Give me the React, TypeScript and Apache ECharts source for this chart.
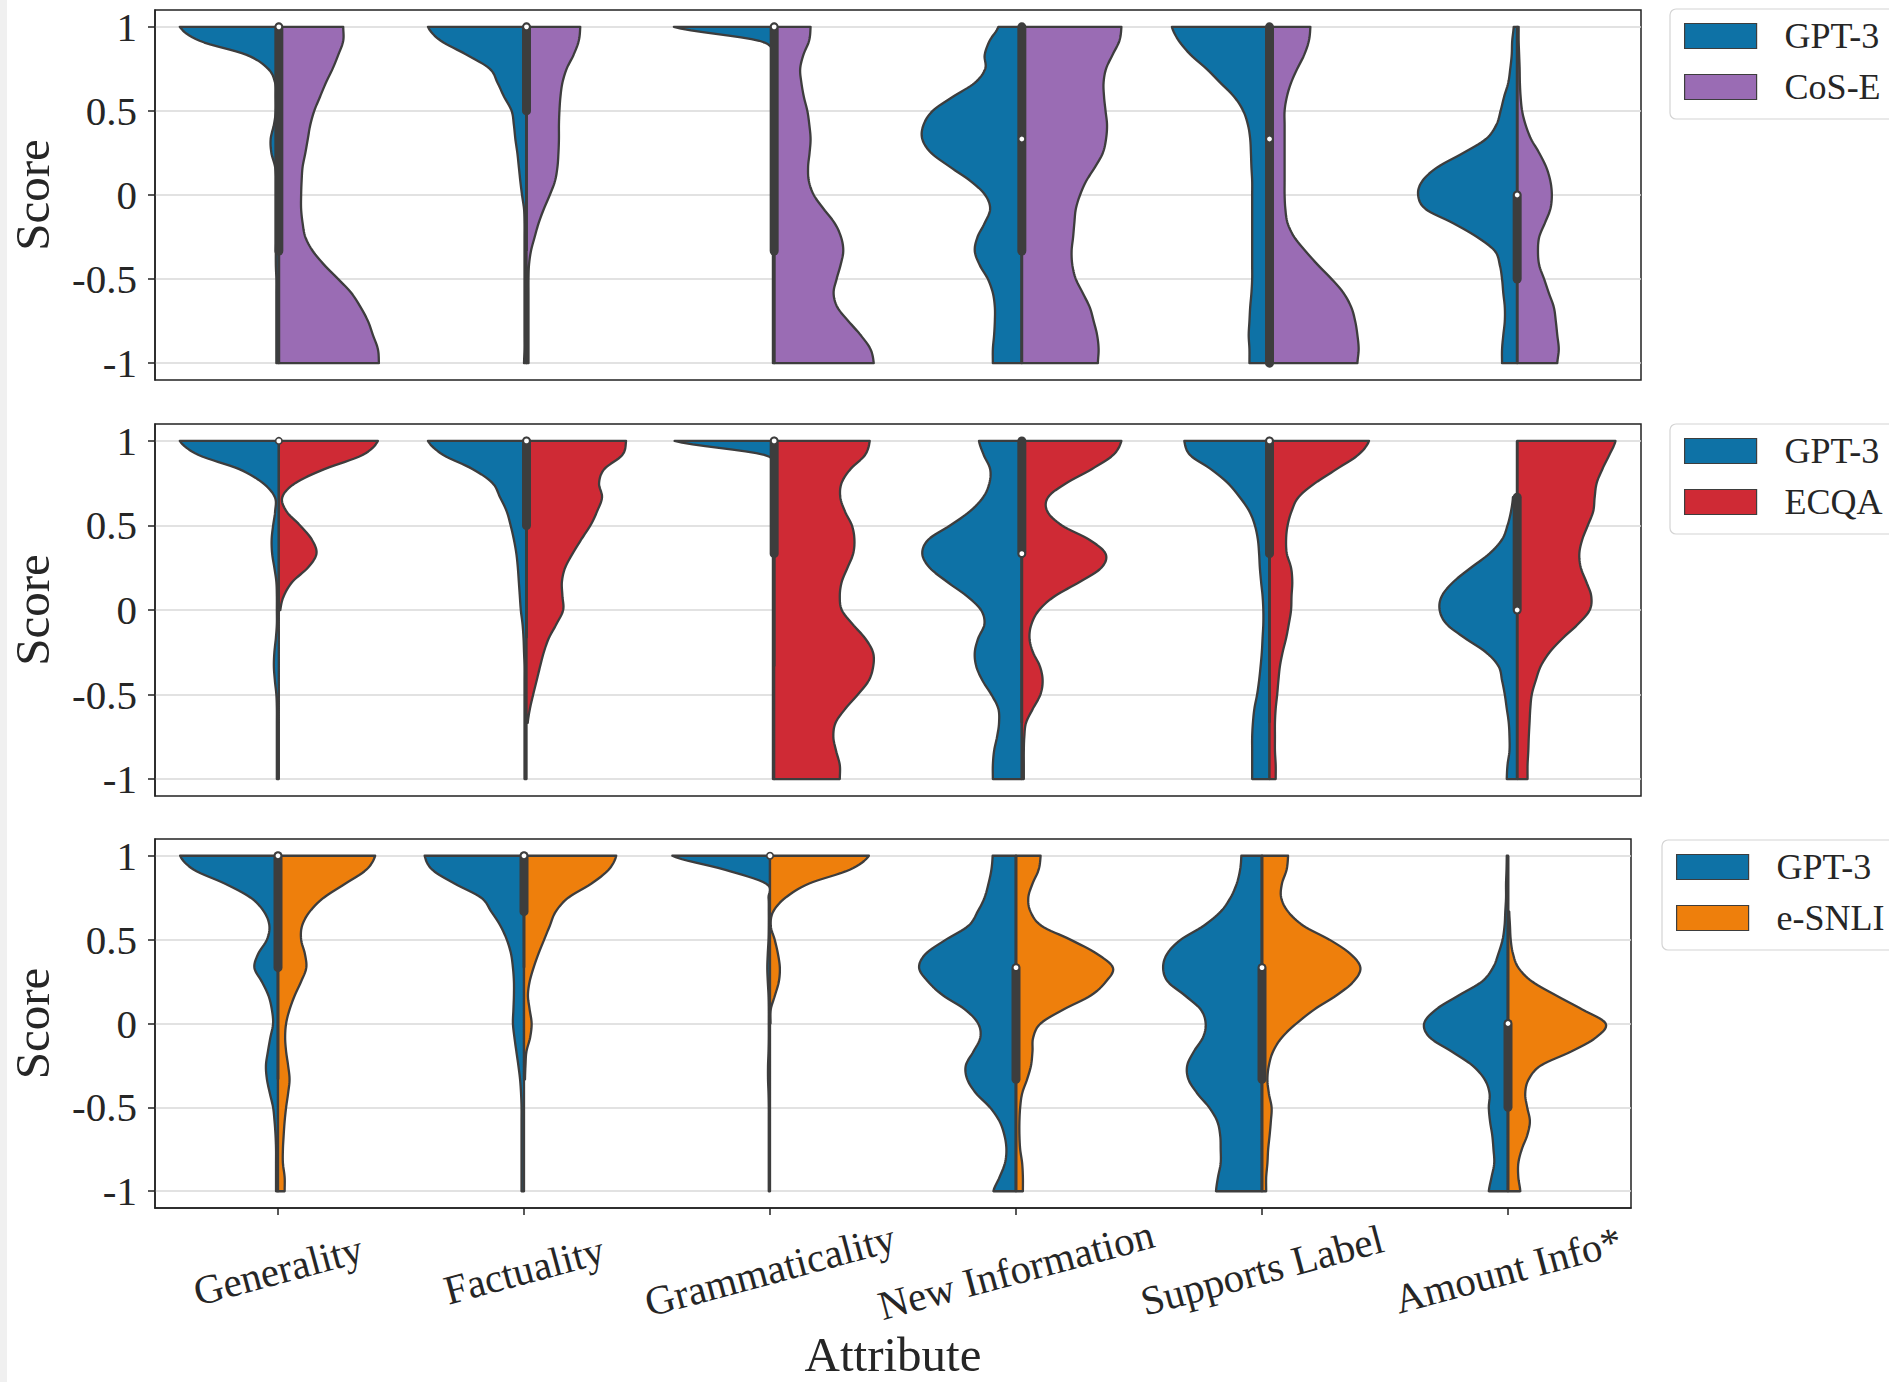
import React, { useEffect, useRef } from 'react';
import * as echarts from 'echarts';

const _ = null;

const CATEGORIES = ['Generality', 'Factuality', 'Grammaticality', 'New Information', 'Supports Label', 'Amount Info*'];
const Y_TICKS = [-1, -0.5, 0, 0.5, 1];
// score levels at which the half-violin widths (percent of category band) were read
const LEVELS = [1, 0.917, 0.833, 0.75, 0.667, 0.583, 0.5, 0.417, 0.333, 0.25, 0.167, 0.083, 0,
  -0.083, -0.167, -0.25, -0.333, -0.417, -0.5, -0.583, -0.667, -0.75, -0.833, -0.917, -1];

// Panel 1: GPT-3 vs CoS-E
const P1_GPT3 = [
  [40, 32, 13, 4.3, 1.5, 1.2, 1.2, 2, 3.3, 3, 1.5, 1, 1, 1, 1, 1, 1.2, 1.2, 1, 1, 1, 1, 1, 1, 1],
  [39.8, 34.6, 24, 14.8, 11.7, 9, 6, 5.1, 4.5, 3.7, 3.1, 2.5, 1.8, 1, 0.8, 0.8, 0.8, 0.8, 0.8, 0.8, 0.8, 0.8, 0.8, 0.8, 1],
  [40.5, 6, 0.5, 0.5, 0.5, 0.5, 0.5, 0.5, 0.5, 0.5, 0.5, 0.5, 0.5, 0.5, 0.5, 0.5, 0.5, 0.5, 0.5, 0.5, 0.5, 0.5, 0.5, 0.5, 0.5],
  [9.5, 13, 15, 14.8, 19, 28, 36, 39.7, 40.2, 36.6, 29, 20.7, 14.8, 12.8, 15, 17.9, 19, 17, 13.7, 11.7, 10.9, 10.9, 11.2, 11.7, 11.7],
  [39.4, 36.6, 31.8, 25.4, 19.8, 14.2, 10.6, 8.7, 7.8, 7.5, 7.3, 7, 7, 7, 7, 7, 7, 7, 7, 7.3, 7.8, 8.1, 8.4, 8.1, 8.1],
  [1.4, 2, 2.2, 2.8, 3.6, 5.3, 6.7, 8.4, 12.6, 21.8, 32, 38.3, 40, 37, 26, 16.2, 9, 7, 6.1, 5.6, 5, 5, 5.6, 6.1, 6.1],
];
const P1_COSE = [
  [26, 26, 24, 21.7, 19, 16.6, 14.3, 12.7, 11.7, 10.7, 9.6, 9.2, 9, 9, 9.6, 10.7, 13.7, 18.4, 24, 29.3, 33, 36, 38, 40, 40.4],
  [21.7, 21.1, 19, 16.2, 14.5, 13.7, 13.3, 13.1, 13.1, 12.9, 12.5, 11.5, 9.4, 7, 4.9, 3.3, 1.8, 1, 0.8, 0.8, 0.8, 0.8, 0.8, 0.8, 0.8],
  [14.7, 14.1, 11.8, 10.5, 11, 12, 13.4, 14.2, 14.7, 14.3, 13.7, 14, 16, 20, 24.4, 27, 27.9, 26.8, 25.2, 24, 25.5, 30, 34.9, 38.9, 40.2],
  [40.2, 39.4, 36.6, 34, 33, 33.2, 33.8, 34.4, 34, 32.7, 29.6, 26, 23.5, 21.8, 21.2, 20.7, 20.1, 20.4, 21.8, 24.6, 27.4, 29, 30.4, 31, 30.7],
  [16.5, 15.9, 14, 11.2, 8.7, 7, 6.1, 6.1, 6.1, 6.1, 6.1, 6.1, 6.1, 6.4, 7.3, 10, 14.5, 19.6, 25.1, 29.9, 33, 34.6, 35.5, 36, 35.5],
  [0.6, 0.6, 0.8, 1, 1.1, 1.4, 2, 3.4, 5.6, 8.9, 11.7, 13.4, 14, 13.4, 11.2, 8.9, 8.4, 8.9, 10.9, 12.8, 14.8, 15.6, 16.2, 16.8, 16.2],
];

// Panel 2: GPT-3 vs ECQA
const P2_GPT3 = [
  [40, 32.4, 16, 6.4, 1.6, 1.5, 2.3, 2.9, 2.7, 1.8, 1, 0.8, 0.8, 0.8, 1.2, 1.8, 2, 1.6, 1, 0.8, 0.8, 0.8, 0.8, 0.8, 0.8],
  [39.8, 33.6, 21.7, 13.7, 10.7, 8, 6.4, 5.1, 4.1, 3.5, 3.1, 2.7, 2.3, 1.6, 1.2, 1, 0.8, 0.8, 0.8, 0.8, 0.8, 0.8, 0.8, 0.8, 0.8],
  [40.2, 4, 0.5, 0.5, 0.5, 0.5, 0.5, 0.5, 0.5, 0.5, 0.5, 0.5, 0.5, 0.5, 0.5, 0.5, 0.5, 0.5, 0.5, 0.5, 0.5, 0.5, 0.5, 0.5, 0.5],
  [17.3, 15.4, 12.8, 13.1, 15.6, 21, 29, 37.7, 40.2, 37.2, 30.2, 22.3, 16.5, 15.1, 17.6, 19, 18.4, 15.9, 12.3, 9.5, 9.2, 10, 11.2, 11.7, 11.7],
  [34.4, 32.1, 23.7, 16.8, 12, 8.1, 5.9, 4.7, 4.2, 3.9, 3.4, 2.8, 2.5, 2.5, 2.8, 3.1, 3.6, 4.2, 5, 6.1, 6.7, 7, 7, 7, 7],
  [_, _, _, _, 1.7, 2.5, 3.9, 6.1, 11.2, 18.7, 25.7, 30.4, 31.3, 28.5, 21, 12.6, 7.5, 6.1, 5, 4.2, 3.4, 3.1, 3.1, 3.9, 4.2],
];
const P2_ECQA = [
  [40, 33.8, 18.4, 6.6, 1.4, 3.1, 8.6, 13.3, 15.2, 11.7, 5.5, 2, 0.6, _, _, _, _, _, _, _, _, _, _, _, _],
  [40.2, 38.7, 31.4, 29.3, 30.5, 28.5, 25.8, 22.1, 18.6, 15.6, 14.3, 14.5, 14.8, 12.1, 9, 7, 5.5, 4.1, 2.7, 1.4, 0.5, _, _, _, _],
  [38.6, 36.7, 30.8, 27.2, 26.7, 28.6, 31.4, 32.4, 31.9, 29.6, 27.3, 26.5, 27.3, 31.6, 36.7, 39.9, 40, 38.2, 33.8, 28.8, 24.8, 23.9, 25, 26.5, 26.5],
  [40.2, 36.9, 28.2, 17.9, 10.6, 10.3, 16.2, 27.1, 33.8, 32.1, 23.5, 13.4, 7, 3.9, 3.1, 4.5, 7.3, 8.4, 7.5, 4.5, 1.7, 1, 0.8, 0.8, 0.8],
  [40.2, 35.8, 27.1, 18.4, 11.7, 8.9, 7.3, 6.7, 7, 8.7, 9.2, 8.9, 8.7, 7.8, 6.7, 5.3, 4.2, 3.6, 3.1, 2.5, 2.2, 2.2, 2.2, 2.5, 2.5],
  [39.7, 37.2, 34.4, 32.1, 31.3, 30.7, 28.5, 26.3, 25.1, 25.7, 27.9, 29.9, 29.3, 24.6, 18.4, 13.1, 9.5, 7.5, 5.9, 5.3, 5, 4.7, 4.5, 4.2, 4.2],
];

// Panel 3: GPT-3 vs e-SNLI
const P3_GPT3 = [
  [39.8, 34.2, 21.5, 11.1, 5.7, 3.5, 4.5, 8, 9.6, 6.6, 3.9, 2.5, 2, 3.1, 4.1, 4.9, 4.5, 3.3, 2, 1.4, 1, 0.8, 0.8, 0.8, 0.8],
  [40.4, 37.3, 28.1, 17.4, 13.3, 9.6, 7, 5.3, 4.5, 4.1, 4.1, 4.3, 4.5, 3.9, 3.1, 2.3, 1.6, 1.2, 1, 1, 1, 1, 1, 1, 1],
  [39.7, 18.5, 1.5, 0.6, 0.5, 0.5, 0.6, 0.9, 1.1, 0.9, 0.6, 0.5, 0.5, 0.5, 0.6, 0.8, 0.8, 0.6, 0.5, 0.5, 0.5, 0.5, 0.5, 0.5, 0.5],
  [9.5, 10, 11.2, 12.8, 15.6, 19.3, 28.5, 36.6, 39.4, 35.8, 29.6, 20.7, 15.4, 14.5, 17.3, 20.4, 19.8, 16.2, 10.6, 6.7, 4.7, 3.9, 4.5, 6.7, 9.2],
  [8.4, 8.9, 10.3, 12.8, 16.8, 23.7, 33, 38.5, 40.2, 38.3, 31.3, 24.9, 22.9, 24, 27.7, 30.4, 29.9, 26.3, 21.5, 18.2, 17, 16.8, 16.8, 17.9, 18.7],
  [0.5, 0.6, 0.8, 0.8, 1.1, 1.4, 2.2, 3.9, 6.1, 10.6, 20.1, 29.3, 34.1, 31.8, 22.9, 14.5, 9.5, 7.5, 7.8, 7.3, 6.4, 5.9, 5.6, 6.7, 7.8],
];
const P3_ESNLI = [
  [39.5, 35.9, 27.3, 18.6, 12.9, 9.8, 9.4, 10.9, 11.5, 9.4, 6.8, 4.7, 3.3, 2.9, 3.3, 4.1, 4.7, 4.1, 3.3, 2.7, 2.3, 2, 2, 2.7, 2.7],
  [37.5, 34.4, 27.3, 18, 12.9, 10.5, 8.2, 5.9, 3.9, 2.3, 1.6, 2.3, 3.1, 2.5, 1, 0.6, 0.4, _, _, _, _, _, _, _, _],
  [40.2, 32.4, 15.7, 6.3, 1.3, 0.3, 1.9, 3.2, 4, 3.6, 2, 0.3, 0.2, _, _, _, _, _, _, _, _, _, _, _, _],
  [10, 9.2, 6.7, 5, 5.9, 10.3, 22.1, 32.7, 39.4, 36.6, 30.4, 19.3, 10, 7, 6.7, 6.1, 4.5, 2.5, 1.7, 1.4, 1.4, 1.7, 2.5, 2.8, 2.8],
  [10.6, 10, 8.1, 7.8, 10.6, 16.8, 27.4, 35.8, 40, 37.2, 30.2, 21.2, 14, 8.1, 4.5, 2.8, 2.2, 2.8, 3.9, 3.6, 3.1, 2.5, 2.2, 1.7, 1.7],
  [_, _, _, _, 0.5, 0.8, 1.1, 2, 4.2, 9.8, 19.6, 30.2, 39.7, 35.8, 25.7, 13.4, 8.4, 7, 7.8, 8.9, 7.8, 5.6, 4.2, 4.2, 5],
];

// inner box statistics per panel (rows) and category (columns)
const WHISKER_LO = [
  [-1, -0.333, -1, -1, -1, -1],
  [1, -0.167, -0.333, -0.667, -0.667, -1],
  [-0.333, 0.333, 1, -1, -1, -1],
];
const Q1 = [
  [-0.333, 0.5, -0.333, -0.333, -1, -0.5],
  [1, 0.5, 0.333, 0.333, 0.333, 0],
  [0.333, 0.667, 1, -0.333, -0.333, -0.5],
];
const MEDIAN = [
  [1, 1, 1, 0.333, 0.333, 0],
  [1, 1, 1, 0.333, 1, 0],
  [1, 1, 1, 0.333, 0.333, 0],
];
const Q3 = [
  [1, 1, 1, 1, 1, 0],
  [1, 1, 1, 1, 1, 0.667],
  [1, 1, 1, 0.333, 0.333, 0],
];
const WHISKER_HI = [
  [1, 1, 1, 1, 1, 1],
  [1, 1, 1, 1, 1, 1],
  [1, 1, 1, 1, 1, 1],
];

const SERIES_NAMES = [['GPT-3', 'CoS-E'], ['GPT-3', 'ECQA'], ['GPT-3', 'e-SNLI']];
const TABLES = [[P1_GPT3, P1_COSE], [P2_GPT3, P2_ECQA], [P3_GPT3, P3_ESNLI]];

const BLUE = '#0e72a6';
const COLORS = ['#9a6cb4', '#cf2a35', '#ee7f0c'];
const DARK = '#3d3d3d';
const TEXT = '#262626';
const FONT = '"Liberation Serif", "DejaVu Serif", serif';

function catmull(p0: number, p1: number, p2: number, p3: number, t: number) {
  const t2 = t * t;
  const t3 = t2 * t;
  return 0.5 * (2 * p1 + (-p0 + p2) * t + (2 * p0 - 5 * p1 + 4 * p2 - p3) * t2 + (-p0 + 3 * p1 - 3 * p2 + p3) * t3);
}

function halfViolin(table: (number | null)[][], side: number, color: string) {
  return (params: any, api: any) => {
    const c = api.value(0);
    const row = table[c];
    const idx: number[] = [];
    row.forEach((w, k) => { if (w !== null) idx.push(k); });
    if (!idx.length) return null;
    const bw = api.size([1, 0])[0];
    const ws = idx.map((k) => row[k] as number);
    const vs = idx.map((k) => LEVELS[k]);
    const n = ws.length;
    const pts: number[][] = [];
    pts.push(api.coord([c, vs[0]]));
    const STEPS = 8;
    for (let i = 0; i < n - 1; i++) {
      const a = Math.max(i - 1, 0);
      const d = Math.min(i + 2, n - 1);
      for (let s = 0; s < STEPS; s++) {
        const t = s / STEPS;
        const w = Math.max(0, catmull(ws[a], ws[i], ws[i + 1], ws[d], t));
        const v = vs[i] + (vs[i + 1] - vs[i]) * t;
        const p = api.coord([c, v]);
        pts.push([p[0] + side * (w / 100) * bw, p[1]]);
      }
    }
    const pe = api.coord([c, vs[n - 1]]);
    pts.push([pe[0] + side * (ws[n - 1] / 100) * bw, pe[1]]);
    pts.push(pe);
    return {
      type: 'polygon',
      shape: { points: pts },
      style: { fill: color, stroke: DARK, lineWidth: 2.3, lineJoin: 'round' },
    };
  };
}

function innerBox(p: number) {
  return (params: any, api: any) => {
    const c = api.value(0);
    const children: any[] = [];
    const lo = api.coord([c, WHISKER_LO[p][c]]);
    const hi = api.coord([c, WHISKER_HI[p][c]]);
    if (WHISKER_LO[p][c] !== WHISKER_HI[p][c]) {
      children.push({ type: 'line', shape: { x1: lo[0], y1: lo[1], x2: hi[0], y2: hi[1] }, style: { stroke: DARK, lineWidth: 2.8 } });
    }
    if (Q1[p][c] !== Q3[p][c]) {
      const a = api.coord([c, Q1[p][c]]);
      const b = api.coord([c, Q3[p][c]]);
      children.push({ type: 'line', shape: { x1: a[0], y1: a[1], x2: b[0], y2: b[1] }, style: { stroke: DARK, lineWidth: 9, lineCap: 'round' } });
    }
    const m = api.coord([c, MEDIAN[p][c]]);
    children.push({ type: 'circle', shape: { cx: m[0], cy: m[1], r: 3.2 }, style: { fill: '#ffffff', stroke: DARK, lineWidth: 1.6 } });
    return { type: 'group', children };
  };
}

const GRIDS = [
  { top: 10, height: 370, right: 248 },
  { top: 424, height: 372, right: 248 },
  { top: 839, height: 369, right: 258 },
];
const LEGEND_POS = [
  { left: 1670, top: 9 },
  { left: 1670, top: 424 },
  { left: 1662, top: 840 },
];

export default function App() {
  const ref = useRef<HTMLDivElement>(null);
  useEffect(() => {
    if (!ref.current) return;
    const chart = echarts.init(ref.current, undefined, { renderer: 'svg' });
    const catData = CATEGORIES.map((_c, i) => [i]);
    const series: any[] = [];
    [0, 1, 2].forEach((p) => {
      series.push({
        type: 'custom', name: SERIES_NAMES[p][0], xAxisIndex: p, yAxisIndex: p,
        data: catData, encode: { x: 0 }, renderItem: halfViolin(TABLES[p][0], -1, BLUE),
        itemStyle: { color: BLUE }, z: 2, clip: false,
      });
      series.push({
        type: 'custom', name: SERIES_NAMES[p][1], xAxisIndex: p, yAxisIndex: p,
        data: catData, encode: { x: 0 }, renderItem: halfViolin(TABLES[p][1], 1, COLORS[p]),
        itemStyle: { color: COLORS[p] }, z: 2, clip: false,
      });
      series.push({
        type: 'custom', name: 'box' + p, xAxisIndex: p, yAxisIndex: p,
        data: catData, encode: { x: 0 }, renderItem: innerBox(p), z: 4, clip: false,
      });
    });
    const option: any = {
      animation: false,
      grid: GRIDS.map((g) => ({
        left: 148, right: g.right, top: g.top, height: g.height, show: true,
        borderColor: '#222', borderWidth: 1.5, backgroundColor: '#ffffff',
      })),
      xAxis: [0, 1, 2].map((p) => ({
        type: 'category', gridIndex: p, data: CATEGORIES, boundaryGap: true,
        axisLine: { show: p === 2, onZero: false, lineStyle: { color: '#222', width: 1.5 } },
        axisTick: { show: p === 2, alignWithLabel: true, length: 7, lineStyle: { color: '#222', width: 1.5 } },
        axisLabel: p === 2
          ? { show: true, interval: 0, rotate: 15, align: 'center', verticalAlign: 'middle', margin: 62, fontSize: 41, fontFamily: FONT, color: TEXT }
          : { show: false },
        splitLine: { show: false },
        name: p === 2 ? 'Attribute' : '',
        nameLocation: 'middle', nameGap: 122,
        nameTextStyle: { fontSize: 49, fontFamily: FONT, color: TEXT },
      })),
      yAxis: [0, 1, 2].map((p) => ({
        type: 'value', gridIndex: p, min: -1.1, max: 1.1,
        axisLine: { show: true, onZero: false, lineStyle: { color: '#222', width: 1.5 } },
        axisTick: { show: true, length: 7, customValues: Y_TICKS, lineStyle: { color: '#222', width: 1.5 } },
        axisLabel: { customValues: Y_TICKS, fontSize: 41, fontFamily: FONT, color: TEXT, margin: 18, formatter: (v: number) => String(v) },
        splitLine: { show: true, lineStyle: { color: '#d9d9d9', width: 1.5 } },
        name: 'Score', nameLocation: 'middle', nameGap: 98,
        nameTextStyle: { fontSize: 49, fontFamily: FONT, color: TEXT },
      })),
      legend: [0, 1, 2].map((p) => ({
        left: LEGEND_POS[p].left, top: LEGEND_POS[p].top, orient: 'vertical',
        data: [
          { name: SERIES_NAMES[p][0], itemStyle: { color: BLUE } },
          { name: SERIES_NAMES[p][1], itemStyle: { color: COLORS[p] } },
        ],
        icon: 'rect', itemWidth: 72, itemHeight: 25, itemGap: 15,
        padding: [9, 14, 14, 14],
        backgroundColor: '#ffffff', borderColor: '#d4d4d4', borderWidth: 1.2, borderRadius: 6,
        itemStyle: { borderColor: DARK, borderWidth: 1.2 },
        textStyle: { fontFamily: FONT, fontSize: 36, color: TEXT, padding: [0, 0, 0, 23] },
        selectedMode: false,
      })),
      series,
    };
    chart.setOption(option);
    return () => chart.dispose();
  }, []);
  return (
    <div style={{ position: 'fixed', left: 0, top: 0, width: 1889, height: 1382, background: '#ffffff' }}>
      <div style={{ position: 'absolute', left: 0, top: 0, width: 7, height: 1382, background: '#f0f0f0' }} />
      <div ref={ref} style={{ position: 'absolute', left: 0, top: 0, width: 1889, height: 1382 }} />
    </div>
  );
}
